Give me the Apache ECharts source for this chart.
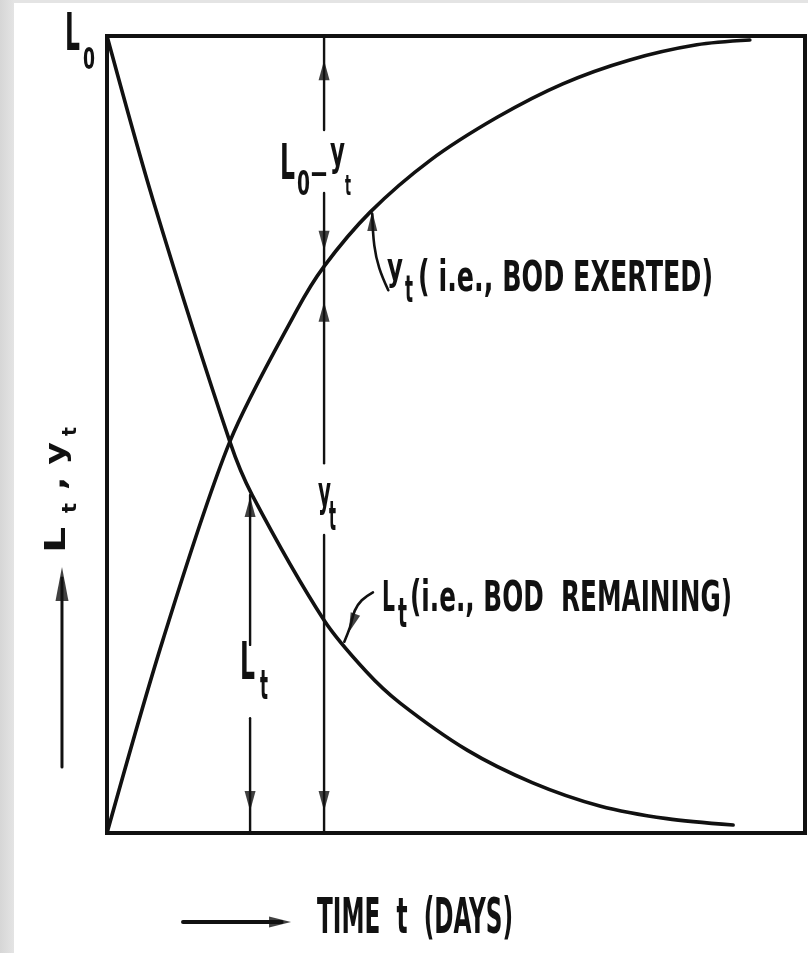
<!DOCTYPE html>
<html>
<head>
<meta charset="utf-8">
<script src="https://cdn.jsdelivr.net/npm/echarts@6/dist/echarts.min.js"></script>
<style>
  html, body { margin: 0; padding: 0; }
  body { width: 808px; height: 953px; background: linear-gradient(to right, #d6d6d6 0px, #e4e4e4 14px, #e4e4e4 100%); overflow: hidden; position: relative; }
  #c { position: absolute; left: 14px; top: 3px; width: 794px; height: 950px; background: #ffffff; }
</style>
</head>
<body>
<div id="c"></div>
<script>
// ---------------- DATA ----------------
// time axis in arbitrary day units (0..10), ordinate in % of L0 (0..100)
const exertedT   = [0, 0.80, 1.76, 2.72, 3.11, 3.77, 4.63, 5.59, 6.53, 7.49, 8.45, 9.21];
const exertedY   = [0, 24.2, 49.1, 65.6, 71.1, 77.9, 84.4, 89.8, 94.0, 97.0, 98.9, 99.5];
const remainingT = [0, 0.66, 1.76, 2.08, 3.11, 3.72, 4.20, 5.16, 6.10, 7.06, 8.02, 8.97];
const remainingY = [100, 79.4, 49.1, 42.4, 26.7, 20.2, 16.3, 10.4, 6.3, 3.4, 1.8, 1.0];

// dimension arrows: [t, vFrom, vTo]
const dimSegments = [
  [2.05, 42.4, 23.6], [2.05, 14.4, 0],
  [3.11, 100, 88.2], [3.11, 80.3, 71.1], [3.11, 71.1, 46.4], [3.11, 37.4, 0]
];
// arrow heads: [t, v(centre), rotation deg, width, length]
const arrowHeads = [
  [2.05, 40.9, 0, 11, 20], [2.05, 4.0, 180, 11, 20],
  [3.11, 95.7, 0, 11, 20], [3.11, 74.3, 180, 11, 20],
  [3.11, 65.4, 0, 11, 20], [3.11, 4.0, 180, 11, 20],
  [3.80, 76.8, 0, 10, 20], [3.51, 26.3, 160, 10, 20],
  [2.479, -11.17, -90, 11, 22], [-0.645, 31.24, 0, 13, 34]
];
// leader curves to the labels
const exertedLeaderT = [4.03, 3.90, 3.83, 3.80];
const exertedLeaderV = [68.1, 70.9, 73.7, 77.7];
const remainLeaderT  = [3.81, 3.65, 3.55, 3.48, 3.40];
const remainLeaderV  = [30.2, 29.2, 27.9, 25.8, 24.0];
// axis-title arrows (shafts)
const timeArrowT = [1.089, 2.50];
const timeArrowV = [-11.17, -11.17];
const ordArrowT  = [-0.645, -0.645];
const ordArrowV  = [8.28, 32.0];

// ---------------- LABEL LAYOUT (text pieces anchored in data coords) ----------------
const FONT = "'Liberation Sans Narrow', 'DejaVu Sans Condensed', 'Liberation Sans', 'DejaVu Sans', sans-serif";
const INK = '#111111';
// [text, t, v, fontSize, width px, kind, rotated]
const labelPieces = [
  ['y', 4.011, 69.76, 37, 16, 'y'],
  ['t', 4.269, 67.88, 37, 8, 't'],
  ['( i.e., BOD EXERTED)', 4.456, 69.39, 42, 295, 'c'],
  ['L', 3.940, 29.23, 42, 13, 'c'],
  ['t', 4.169, 27.10, 40, 9, 't'],
  ['(i.e., BOD  REMAINING)', 4.341, 29.23, 42, 322, 'c'],
  ['L', 2.479, 83.69, 50, 15, 'c'],
  ['0', 2.722, 81.18, 34, 13, 'c'],
  ['\u2014', 2.923, 82.69, 30, 16, 'c'],
  ['y', 3.195, 84.19, 41, 15, 'y'],
  ['t', 3.410, 81.05, 29, 6, 't'],
  ['y', 3.023, 41.41, 42, 13, 'y'],
  ['t', 3.181, 39.27, 40, 7, 't'],
  ['L', 1.905, 20.95, 51, 15, 'c'],
  ['t', 2.192, 18.19, 41, 8, 't'],
  ['L', -0.602, 99.87, 51, 15, 'c'],
  ['0', -0.344, 96.86, 31, 12, 'c'],
  ['TIME  t  (DAYS)', 3.009, -10.92, 50, 196, 'c'],
  ['L', -0.702, 35.13, 28, 26, 'c', 1],
  ['t', -0.509, 40.15, 19, 10, 't', 1],
  [', y', -0.702, 43.04, 28, 48, 'c', 1],
  ['t', -0.509, 49.81, 19, 9, 't', 1]
];

const pairs = (a, b) => a.map((x, i) => [x, b[i]]);
const plainLine = (data, width, smooth) => ({
  type: 'line', data: data, smooth: smooth || false, showSymbol: false, symbol: 'none',
  clip: false, silent: true, animation: false,
  lineStyle: { color: INK, width: width, cap: 'round', join: 'round' }
});

const series = [
  plainLine(pairs(exertedT, exertedY), 3.6, 0.3),
  plainLine(pairs(remainingT, remainingY), 3.6, 0.3)
];
dimSegments.forEach(s => series.push(plainLine([[s[0], s[1]], [s[0], s[2]]], 2.4)));
series.push(plainLine(pairs(exertedLeaderT, exertedLeaderV), 2.6, 0.4));
series.push(plainLine(pairs(remainLeaderT, remainLeaderV), 2.6, 0.4));
series.push({
  type: 'scatter', clip: false, silent: true, animation: false,
  symbol: 'path://M5 0L10 20L0 20Z',
  itemStyle: { color: INK },
  data: arrowHeads.map(h => ({ value: [h[0], h[1]], symbolRotate: h[2], symbolSize: [h[3], h[4]] }))
});

const option = {
  animation: false,
  backgroundColor: '#ffffff',
  grid: { left: 93, right: 3, top: 33, bottom: 120, show: true, borderColor: INK, borderWidth: 4, backgroundColor: 'transparent' },
  xAxis: { type: 'value', min: 0, max: 10, show: false },
  yAxis: { type: 'value', min: 0, max: 100, show: false },
  series: series
};

const chart = echarts.init(document.getElementById('c'), null, { renderer: 'canvas' });
chart.setOption(option);

const toPx = (t, v) => chart.convertToPixel({ gridIndex: 0 }, [t, v]);
const mctx = document.createElement('canvas').getContext('2d');
const graphics = labelPieces.map(p => {
  const [s, t, v, fs, w, k, rot] = p;
  const pt = toPx(t, v);
  mctx.font = 'bold ' + fs + 'px ' + FONT;
  const nat = mctx.measureText(s).width || w;
  const off = (k === 'y') ? -0.19 * fs : 0;
  return {
    type: 'text', silent: true, z: 100,
    x: rot ? pt[0] + off : pt[0],
    y: rot ? pt[1] : pt[1] + off,
    rotation: rot ? Math.PI / 2 : 0,
    scaleX: w / nat,
    style: { text: s, fill: INK, fontSize: fs, fontFamily: FONT, fontWeight: 'bold', align: 'left', verticalAlign: 'middle' }
  };
});
// axis-title arrow shafts, placed through the axis scales
[[timeArrowT, timeArrowV, 4], [ordArrowT, ordArrowV, 3]].forEach(([ts, vs, lw]) => {
  const a = toPx(ts[0], vs[0]);
  const b = toPx(ts[1], vs[1]);
  graphics.push({
    type: 'line', silent: true, z: 100,
    shape: { x1: a[0], y1: a[1], x2: b[0], y2: b[1] },
    style: { stroke: INK, lineWidth: lw, lineCap: 'round' }
  });
});
chart.setOption({ graphic: graphics });
</script>
</body>
</html>
